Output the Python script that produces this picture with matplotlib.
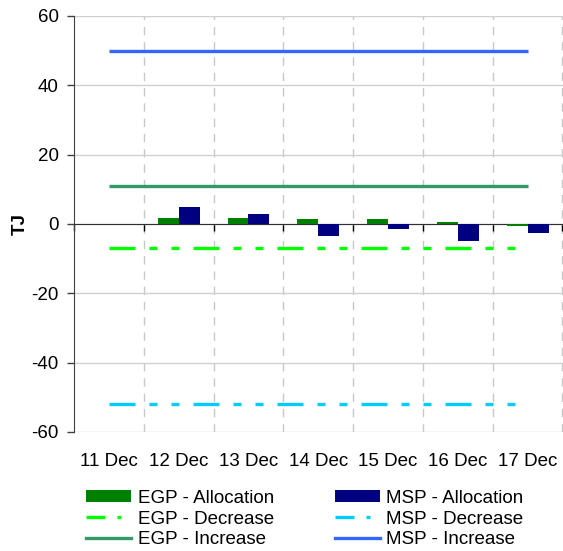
import matplotlib
matplotlib.use("Agg")
import matplotlib.pyplot as plt
from matplotlib.patches import Patch
from matplotlib.lines import Line2D
from matplotlib.transforms import blended_transform_factory

plt.rcParams['font.family'] = ['Liberation Sans', 'DejaVu Sans']
plt.rcParams['lines.scale_dashes'] = False

categories = ["11 Dec", "12 Dec", "13 Dec", "14 Dec", "15 Dec", "16 Dec", "17 Dec"]
egp_allocation = [0.1, 1.7, 1.7, 1.4, 1.4, 0.6, -0.7]
msp_allocation = [0.0, 5.0, 2.9, -3.6, -1.3, -4.8, -2.5]
egp_decrease = [-7, -7, -7, -7, -7, -7, -7]
msp_decrease = [-52, -52, -52, -52, -52, -52, -52]
egp_increase = [11, 11, 11, 11, 11, 11, 11]
msp_increase = [50, 50, 50, 50, 50, 50, 50]
y_ticks = [-60, -40, -20, 0, 20, 40, 60]

c_egp_alloc = "#008000"
c_msp_alloc = "#000080"
c_egp_dec = "#00FF00"
c_msp_dec = "#00CCFF"
c_egp_inc = "#339966"
c_msp_inc = "#3366FF"

fs = 13.5
px = 0.72
dash = (0, [26 * px, 14 * px, 8 * px, 14 * px, 8 * px, 14 * px])

fig = plt.figure(figsize=(5.63, 5.51), dpi=100)
ax = fig.add_axes([74 / 563, 1 - 432 / 551, 488.5 / 563, 416 / 551])

x = list(range(len(categories)))
w = 0.3
ax.bar([i - w / 2 for i in x], egp_allocation, width=w, color=c_egp_alloc, zorder=3)
ax.bar([i + w / 2 for i in x], msp_allocation, width=w, color=c_msp_alloc, zorder=3)

lw = 2.4
ax.plot(x, egp_decrease, color=c_egp_dec, lw=lw, linestyle=dash, dash_capstyle='butt', zorder=4)
ax.plot(x, msp_decrease, color=c_msp_dec, lw=lw, linestyle=dash, dash_capstyle='butt', zorder=4)
ax.plot(x, egp_increase, color=c_egp_inc, lw=lw, solid_capstyle='butt', zorder=4)
ax.plot(x, msp_increase, color=c_msp_inc, lw=lw, solid_capstyle='butt', zorder=4)

ax.set_xlim(-0.5, len(categories) - 0.5)
ax.set_ylim(-60, 60)
ax.set_yticks(y_ticks)
ax.set_yticklabels([str(v) for v in y_ticks], fontsize=fs)
ax.tick_params(axis='y', direction='out', length=5, width=1, color='#404040', pad=6)

bounds = [i - 0.5 for i in range(len(categories) + 1)]
ax.set_xticks(bounds)
ax.set_xticklabels([])
ax.tick_params(axis='x', direction='out', length=5, width=1, color='black')

ax.grid(axis='y', color='#d0d0d0', lw=1, linestyle='-', zorder=0)
for b in bounds[1:]:
    ax.axvline(b, color='#c8c8c8', lw=1, linestyle=(0, (6, 5)), zorder=0)

ax.spines['top'].set_visible(False)
ax.spines['right'].set_visible(False)
ax.spines['left'].set_color('#404040')
ax.spines['bottom'].set_position(('data', 0))
ax.spines['bottom'].set_color('#303030')
ax.set_axisbelow(True)

trans = blended_transform_factory(ax.transData, ax.transAxes)
for i, c in enumerate(categories):
    ax.text(i, -0.07, c, transform=trans, ha='center', va='center', fontsize=fs)

ax.set_ylabel("TJ", fontsize=fs, fontweight='bold', labelpad=2)

leg_dash = (0, [19 * px, 12 * px, 4 * px, 12 * px])
handles = [
    Patch(facecolor=c_egp_alloc, edgecolor='none'),
    Line2D([], [], color=c_egp_dec, lw=lw, linestyle=leg_dash, dash_capstyle='butt'),
    Line2D([], [], color=c_egp_inc, lw=lw),
    Patch(facecolor=c_msp_alloc, edgecolor='none'),
    Line2D([], [], color=c_msp_dec, lw=lw, linestyle=leg_dash, dash_capstyle='butt'),
    Line2D([], [], color=c_msp_inc, lw=lw),
]
labels = ["EGP - Allocation", "EGP - Decrease", "EGP - Increase",
          "MSP - Allocation", "MSP - Decrease", "MSP - Increase"]
fig.legend(handles, labels, ncol=2, loc='center', bbox_to_anchor=(305 / 563, 1 - 519 / 551),
           frameon=False, fontsize=fs, handlelength=2.4, handleheight=0.55, handletextpad=0.37,
           columnspacing=3.2, labelspacing=0.2, borderpad=0)

fig.savefig("out.png", dpi=100)
